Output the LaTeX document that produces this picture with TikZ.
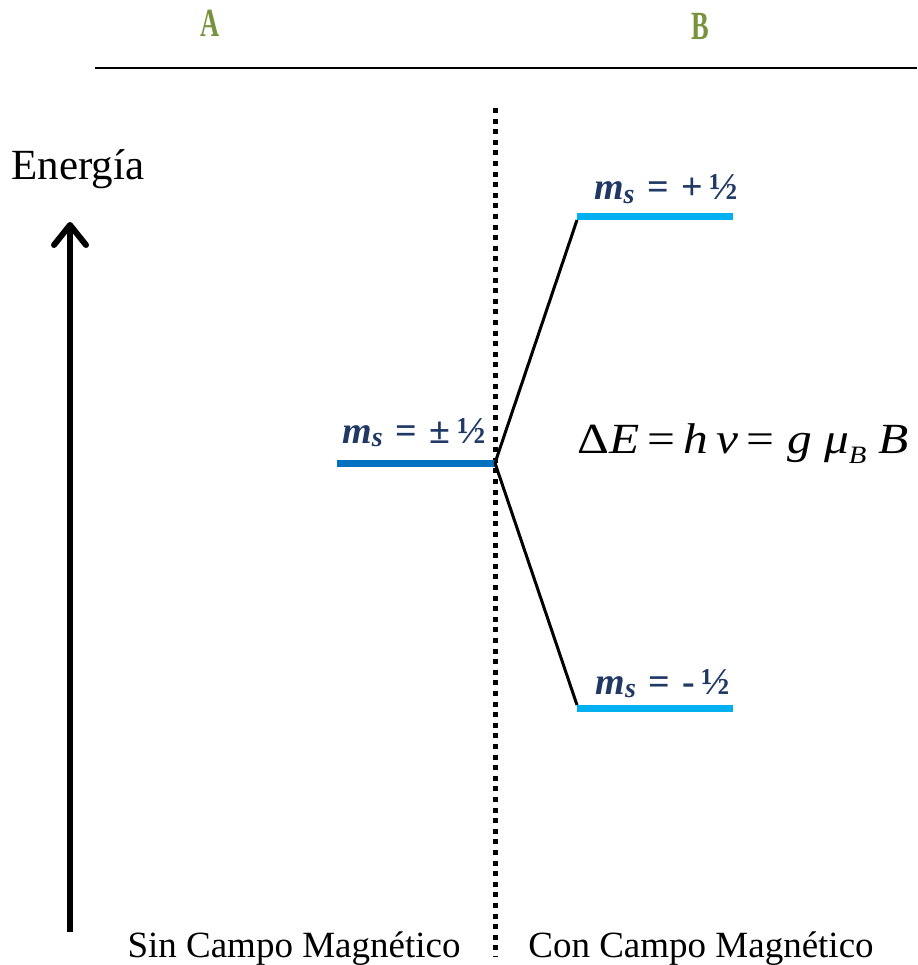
\documentclass[tikz,border=0pt]{standalone}
\usepackage{fontspec}
\setmainfont{Liberation Serif}
\usetikzlibrary{arrows.meta}
\definecolor{hdrgreen}{HTML}{77933C}
\definecolor{navy}{HTML}{1F3864}
\definecolor{dkblue}{HTML}{0070C0}
\definecolor{ltblue}{HTML}{00B0F0}
\tikzset{
  hdr/.style={text=hdrgreen, font=\fontsize{40}{40}\selectfont\bfseries, xscale=0.66, inner sep=0pt},
  lvl/.style={line width=7pt},
  split/.style={line width=3pt, black},
  mslabel/.style={text=navy, font=\fontsize{38}{38}\selectfont\bfseries, inner sep=0pt, anchor=base},
  caption/.style={font=\fontsize{37}{38}\selectfont, inner sep=0pt, anchor=base},
}
\newcommand{\msub}{\textit{m}\raisebox{-0.1em}{\fontsize{28}{28}\selectfont\textit{s}}}
\begin{document}
\begin{tikzpicture}[x=1pt,y=-1pt]
\useasboundingbox (0,0) rectangle (917,965);
% header
\node[hdr] (hA) at (210,23) {A};
\node[hdr] (hB) at (700,26) {B};
\coordinate (topL) at (95,68);
\coordinate (topR) at (917,68);
\draw[line width=2pt] (topL) -- (topR);
% dotted divider
\coordinate (dT) at (495,108);
\coordinate (dB) at (495,957);
\draw[line width=5pt, dash pattern=on 5pt off 5.6pt] (dT) -- (dB);
% energy axis
\node[font=\fontsize{43}{44}\selectfont, inner sep=0pt, anchor=base] (en) at (78,180) {Energía};
\coordinate (axB) at (70,932);
\coordinate (axT) at (70,222);
\draw[line width=6pt, -{Straight Barb[length=20pt, width=32pt, line cap=round, line join=round]}] (axB) -- (axT);
% levels
\coordinate (m0L) at (337,463);
\coordinate (m0R) at (495,463);
\coordinate (uL) at (577,217);
\coordinate (uR) at (733,217);
\coordinate (lL) at (577,708);
\coordinate (lR) at (733,708);
\draw[lvl, dkblue] (m0L) -- (m0R);
\draw[lvl, ltblue] (uL) -- (uR);
\draw[lvl, ltblue] (lL) -- (lR);
\draw[split] (m0R) -- ([yshift=-3pt]uL);
\draw[split] (m0R) -- ([yshift=3pt]lL);
% labels
\node[mslabel] (l0) at (414,443) {\msub{}\,\,=\,\,±\,½};
\node[mslabel] (l1) at (666,200) {\msub{}\,\,=\,\,+\,½};
\node[mslabel] (l2) at (663,694) {\msub{}\,\,=\,\,-\,½};
\node[inner sep=0pt, anchor=base west, font=\fontsize{43}{44}\selectfont, xscale=1.15] (eq) at (577,453)
  {Δ\textit{E}\,=\,\textit{h\,ν}\,= \textit{g μ}\raisebox{-0.25em}{\fontsize{25}{25}\selectfont\textit{B}} \textit{B}};
% captions
\node[caption] (c1) at (294,957) {Sin Campo Magnético};
\node[caption] (c2) at (701,957) {Con Campo Magnético};
\end{tikzpicture}
\end{document}
